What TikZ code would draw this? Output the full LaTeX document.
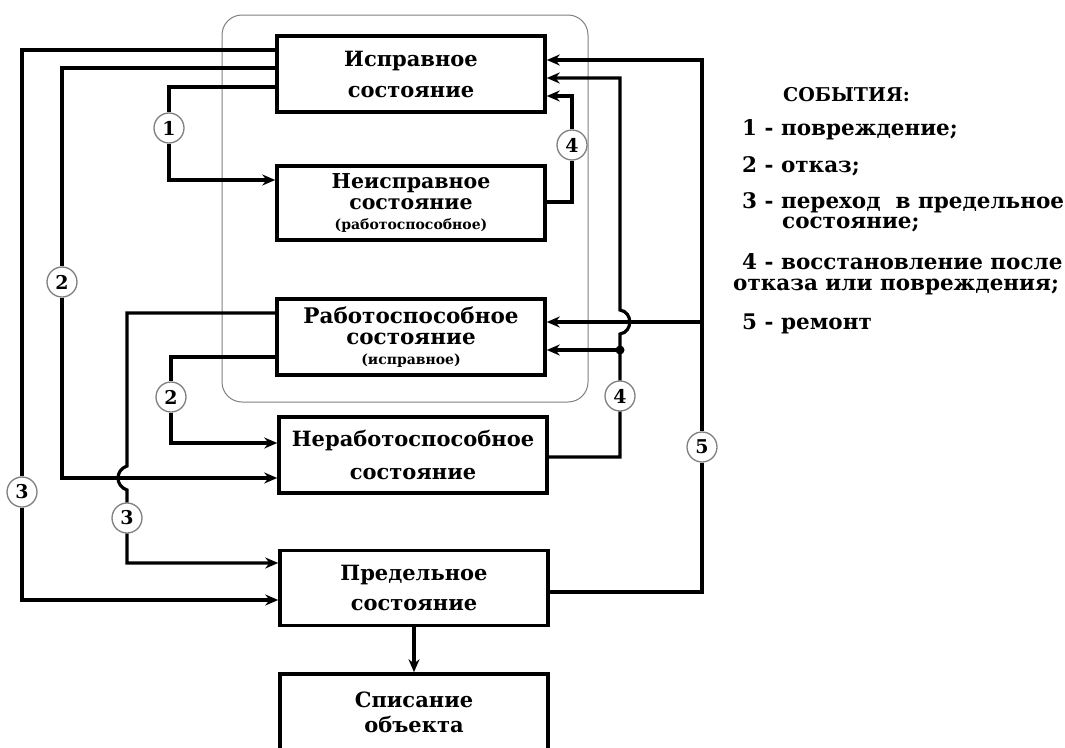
\documentclass[tikz,border=0pt]{standalone}
\usepackage{fontspec}
\setmainfont{DejaVu Serif}
\usetikzlibrary{arrows.meta}

\tikzset{
  state/.style={draw,line width=3.5pt,minimum width=268pt,minimum height=76pt,
    align=center,inner sep=0pt,font=\bfseries\fontsize{21}{27}\selectfont},
  event/.style={circle,draw=gray,line width=1.3pt,fill=white,minimum size=30pt,
    inner sep=0pt,font=\bfseries\fontsize{19}{19}\selectfont},
  link/.style={line width=3.2pt},
  legend/.style={anchor=west,inner sep=0pt,font=\bfseries\fontsize{21.5}{21.5}\selectfont},
}
\newcommand{\smalltxt}[1]{{\fontsize{14}{14}\selectfont #1}}

\begin{document}
\begin{tikzpicture}[x=1pt,y=-1pt,>={Stealth[length=13pt,width=11pt]}]
  \path[use as bounding box,clip] (0,0) rectangle (1065,747);
  \draw[gray,line width=1pt,rounded corners=20pt] (222,15) rectangle (588,402);

  \node[state] (ok) at (411,74) {Исправное\\[4pt]состояние};
  \node[state,minimum height=74pt,font=\bfseries\fontsize{20.5}{21}\selectfont] (dmg) at (411,203)
    {Неисправное\\состояние\\[-1pt]\smalltxt{(работоспособное)}};
  \node[state,font=\bfseries\fontsize{21.5}{21}\selectfont] (work) at (411,337)
    {Работоспособное\\состояние\\[-1pt]\smalltxt{(исправное)}};
  \node[state] (fail) at (413,455) {Неработоспособное\\[6pt]состояние};
  \node[state,minimum height=75pt] (lim) at (414,588) {Предельное\\[3pt]состояние};
  \node[state] (off) at (414,712) {Списание\\[-2pt]объекта};

  \node[event] (c1) at (169,128) {1};
  \node[event] (c2a) at (62,282) {2};
  \node[event] (c2b) at (171,397) {2};
  \node[event] (c3a) at (22,492) {3};
  \node[event] (c3b) at (127,518) {3};
  \node[event] (c4a) at (572,145) {4};
  \node[event] (c4b) at (620,396) {4};
  \node[event] (c5) at (702,447) {5};
  \coordinate (j4) at (620,350);
  \coordinate (j5) at (702,322);

  % left side
  \draw[link,->] (ok.west |- 0,50) -| (c3a) |- (lim.west |- 0,600);
  \draw[link,->] (ok.west |- 0,68) -| (c2a) |- (fail.west |- 0,478);
  \draw[link,->] (ok.west |- 0,87) -| (c1) |- (dmg.west |- 0,180);
  \draw[link,->] (work.west |- 0,313) -| (127,466) .. controls (115,470) and (115,486) .. (127,490) -- (c3b) |- (lim.west |- 0,563);
  \draw[link,->] (work.west |- 0,357) -| (c2b) |- (fail.west |- 0,443);
  \draw[link,->] (lim) -- (off);

  % right side
  \draw[link,->] (dmg.east |- 0,202) -| (c4a) |- (ok.east |- 0,96);
  \draw[link,->] (fail.east |- 0,457) -| (c4b) -- (620,334) .. controls (633,332) and (633,312) .. (620,310) |- (ok.east |- 0,78);
  \fill (j4) circle (4.5pt);
  \draw[link,->] (j4) -- (work.east |- j4);
  \draw[link,->] (lim.east |- 0,592) -| (c5) |- (ok.east |- 0,60);
  \draw[link,->] (j5) -- (work.east |- j5);

  % legend
  \node[legend,font=\bfseries\fontsize{19}{19}\selectfont] (lg0) at (783,95) {СОБЫТИЯ:};
  \foreach \x/\y/\t [count=\i] in {742/130/{1 - повреждение;},742/166/{2 - отказ;},
    742/203/{3 - переход~ в предельное},782/224/{состояние;},
    742/262/{4 - восстановление после},733/287/{отказа или повреждения;},742/324/{5 - ремонт}}
    \node[legend] (lg\i) at (\x,\y) {\t};
\end{tikzpicture}
\end{document}
